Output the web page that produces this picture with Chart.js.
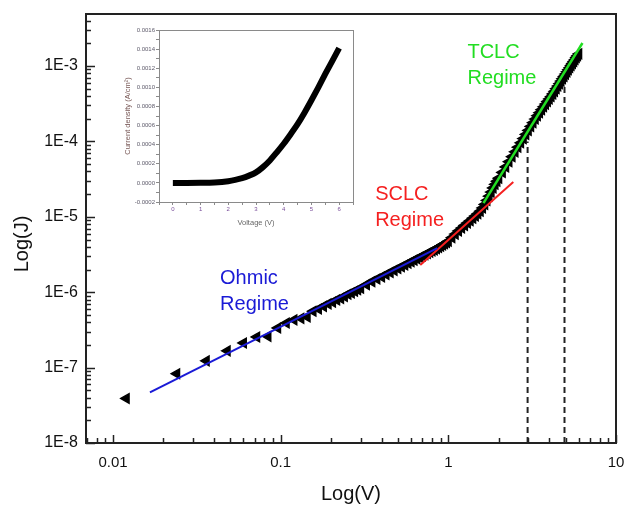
<!DOCTYPE html>
<html lang="en">
<head>
  <meta charset="UTF-8" />
  <title>Log J vs Log V</title>
  <script src="https://cdn.jsdelivr.net/npm/chart.js"></script>
  <style>
    html, body { margin: 0; padding: 0; background: #fff; }
    #wrap { position: relative; width: 626px; height: 506px; }
    #main { position: absolute; left: 0; top: 0; }
    #inset { position: absolute; left: 112px; top: 22px; }
  </style>
</head>
<body>
<div id="wrap">
  <canvas id="main" width="626" height="506"></canvas>
  <canvas id="inset" width="250" height="212"></canvas>
</div>
<script>
  // main log-log data (V, A/cm2)
  const voltage = [
    0.012, 0.024, 0.036, 0.048, 0.060, 0.072, 0.084, 0.096, 0.108, 0.120, 0.132, 0.144,
    0.156, 0.168, 0.180, 0.192, 0.204, 0.216, 0.228, 0.240, 0.252, 0.264, 0.276, 0.288, 0.300,
    0.325, 0.35, 0.375, 0.4, 0.425, 0.45, 0.475, 0.5, 0.525, 0.55, 0.575, 0.6, 0.625, 0.65,
    0.675, 0.7, 0.725, 0.75, 0.775, 0.8, 0.825, 0.85, 0.875, 0.9, 0.925, 0.95, 0.975, 1.0,
    1.05, 1.1, 1.15, 1.2, 1.25, 1.3, 1.35, 1.4, 1.45, 1.5, 1.55, 1.6, 1.65, 1.7, 1.75, 1.8,
    1.85, 1.9, 1.95, 2.0, 2.1, 2.2, 2.3, 2.4, 2.5, 2.6, 2.7, 2.8, 2.9, 3.0, 3.1, 3.2, 3.3,
    3.4, 3.5, 3.6, 3.7, 3.8, 3.9, 4.0, 4.1, 4.2, 4.3, 4.4, 4.5, 4.6, 4.7, 4.8, 4.9, 5.0,
    5.1, 5.2, 5.3, 5.4, 5.5, 5.6, 5.7, 5.8, 5.9, 6.0
  ];
  const currentDensity = [
    3.9e-8, 8.3e-8, 1.23e-7, 1.67e-7, 2.12e-7, 2.55e-7, 2.6e-7, 3.35e-7, 3.9e-7, 4.3e-7, 4.5e-7, 4.7e-7,
    5.6e-7, 6.0e-7, 6.5e-7, 7.0e-7, 7.4e-7, 7.9e-7, 8.3e-7, 8.8e-7, 9.4e-7, 9.8e-7, 1.03e-6, 1.08e-6, 1.13e-6,
    1.26e-6, 1.38e-6, 1.5e-6, 1.6e-6, 1.72e-6, 1.83e-6, 1.95e-6, 2.06e-6, 2.18e-6, 2.3e-6, 2.42e-6, 2.54e-6, 2.66e-6, 2.78e-6,
    2.9e-6, 3.02e-6, 3.14e-6, 3.27e-6, 3.39e-6, 3.52e-6, 3.65e-6, 3.79e-6, 3.93e-6, 4.08e-6, 4.23e-6, 4.39e-6, 4.56e-6, 4.74e-6,
    5.3e-6, 5.9e-6, 6.5e-6, 7.1e-6, 7.7e-6, 8.3e-6, 8.9e-6, 9.6e-6, 1.03e-5, 1.1e-5, 1.19e-5, 1.31e-5, 1.46e-5, 1.65e-5, 1.88e-5, 2.13e-5,
    2.42e-5, 2.7e-5, 2.97e-5, 3.26e-5, 3.88e-5, 4.59e-5, 5.38e-5, 6.28e-5, 7.27e-5, 8.37e-5, 9.59e-5, 1.09e-4, 1.24e-4, 1.4e-4, 1.58e-4, 1.77e-4, 1.98e-4,
    2.19e-4, 2.4e-4, 2.63e-4, 2.88e-4, 3.13e-4, 3.39e-4, 3.66e-4, 3.94e-4, 4.27e-4, 4.62e-4, 5.01e-4, 5.43e-4, 5.85e-4, 6.31e-4, 6.79e-4, 7.29e-4, 7.82e-4,
    8.38e-4, 8.95e-4, 9.55e-4, 1.02e-3, 1.08e-3, 1.15e-3, 1.22e-3, 1.3e-3, 1.37e-3, 1.45e-3
  ];

  // fitted lines, two end points each
  const ohmicFitV = [0.0166, 0.86];
  const ohmicFitJ = [4.7e-8, 3.85e-6];
  const sclcFitV = [0.68, 2.44];
  const sclcFitJ = [2.3e-6, 2.9e-5];
  const tclcFitV = [1.62, 6.31];
  const tclcFitJ = [1.52e-5, 2.02e-3];

  // dashed markers (V, top J)
  const markerV = [2.97, 4.93];
  const markerTopJ = [1.0e-4, 6.1e-4];

  const xTicks = [0.01, 0.1, 1, 10];
  const yTicks = [1e-8, 1e-7, 1e-6, 1e-5, 1e-4, 1e-3];
  const xLabels = ['0.01', '0.1', '1', '10'];
  const yLabels = ['1E-8', '1E-7', '1E-6', '1E-5', '1E-4', '1E-3'];

  // inset J-V (linear)
  const insetV = [0, 0.5, 1, 1.5, 2, 2.25, 2.5, 2.75, 3, 3.25, 3.5, 3.75, 4, 4.25, 4.5, 4.75, 5, 5.25, 5.5, 5.75, 6];
  const insetJ = [0, 0, 1e-6, 5e-6, 1.8e-5, 3.1e-5, 4.9e-5, 7.6e-5, 1.1e-4, 1.65e-4, 2.35e-4, 3.2e-4, 4.1e-4,
                  5.1e-4, 6.15e-4, 7.35e-4, 8.65e-4, 1.0e-3, 1.14e-3, 1.275e-3, 1.41e-3];

  const FONT = "'Liberation Sans', Arial, sans-serif";
  Chart.defaults.font.family = FONT;
  Chart.defaults.color = '#111';

  const pts = (xs, ys) => xs.map((x, i) => ({ x: x, y: ys[i] }));
  const noOverflow = s => { s.paddingTop = 0; s.paddingBottom = 0; s.paddingLeft = 0; s.paddingRight = 0; };

  const yMin = 1e-8, yMax = 4.9e-3;

  const mainDecor = {
    id: 'mainDecor',
    afterDraw(chart) {
      const { ctx, chartArea: a } = chart;
      const xs = chart.scales.x, ys = chart.scales.y;
      ctx.save();
      // inward ticks
      ctx.strokeStyle = '#222';
      ctx.lineWidth = 1.5;
      for (let e = -3; e <= 1; e++) {
        for (let m = 1; m <= 9; m++) {
          const v = m * Math.pow(10, e);
          if (v < xs.min || v > xs.max) continue;
          const px = Math.round(xs.getPixelForValue(v)) + 0.5;
          const len = m === 1 ? 8 : 5;
          ctx.beginPath(); ctx.moveTo(px, a.bottom); ctx.lineTo(px, a.bottom - len); ctx.stroke();
        }
      }
      for (let e = -8; e <= -2; e++) {
        for (let m = 1; m <= 9; m++) {
          const v = m * Math.pow(10, e);
          if (v < ys.min || v > ys.max) continue;
          const py = Math.round(ys.getPixelForValue(v)) + 0.5;
          const len = m === 1 ? 9 : 5;
          ctx.beginPath(); ctx.moveTo(a.left, py); ctx.lineTo(a.left + len, py); ctx.stroke();
        }
      }
      // frame
      ctx.lineWidth = 2;
      ctx.strokeRect(a.left, a.top, a.right - a.left, a.bottom - a.top);

      // regime labels
      ctx.font = '20px ' + FONT;
      ctx.textBaseline = 'middle';
      ctx.textAlign = 'left';
      const label = (lines, v, j, color) => {
        ctx.fillStyle = color;
        const x = xs.getPixelForValue(v), y = ys.getPixelForValue(j);
        lines.forEach((t, i) => ctx.fillText(t, x, y + i * 26));
      };
      label(['Ohmic', 'Regime'], 0.0435, 1.54e-6, '#1a1ad6');
      label(['SCLC', 'Regime'], 0.366, 1.95e-5, '#f52020');
      label(['TCLC', 'Regime'], 1.30, 1.49e-3, '#22dd22');

      // y title
      ctx.fillStyle = '#111';
      ctx.textAlign = 'center';
      ctx.translate(22, 244);
      ctx.rotate(-Math.PI / 2);
      ctx.fillText('Log(J)', 0, 0);
      ctx.restore();
    }
  };

  new Chart(document.getElementById('main'), {
    type: 'scatter',
    data: {
      datasets: [
        { data: pts(ohmicFitV, ohmicFitJ), showLine: true, borderColor: '#1a1ad6', borderWidth: 2, pointRadius: 0, order: 1 },
        { data: pts(sclcFitV, sclcFitJ), showLine: true, borderColor: '#f52020', borderWidth: 2, pointRadius: 0, order: 1 },
        { data: pts(tclcFitV, tclcFitJ), showLine: true, borderColor: '#22dd22', borderWidth: 2.5, pointRadius: 0, order: 1 },
        { data: pts(voltage, currentDensity), pointStyle: 'triangle', rotation: -90, pointRadius: 5.5,
          backgroundColor: '#000', borderColor: '#000', borderWidth: 1.5, showLine: false, order: 2 },
        ...markerV.map((v, i) => ({
          data: [{ x: v, y: yMin }, { x: v, y: markerTopJ[i] }], showLine: true,
          borderColor: '#222', borderWidth: 2, borderDash: [6, 4], pointRadius: 0, order: 3
        }))
      ]
    },
    options: {
      responsive: false,
      animation: false,
      devicePixelRatio: 1,
      layout: { padding: { top: 14, right: 10, left: 0, bottom: 0 } },
      plugins: { legend: { display: false }, tooltip: { enabled: false } },
      scales: {
        x: {
          type: 'logarithmic', min: 0.0069, max: 10,
          grid: { display: false, drawTicks: false },
          border: { display: false },
          afterBuildTicks: s => { s.ticks = xTicks.map(v => ({ value: v })); },
          afterFit: s => { s.height = 63; noOverflow(s); },
          ticks: {
            autoSkip: false, maxRotation: 0, padding: 11,
            font: { size: 15 }, color: '#111',
            callback: v => xLabels[xTicks.indexOf(v)] ?? ''
          },
          title: { display: true, text: 'Log(V)', font: { size: 20 }, color: '#111', padding: { top: 0, bottom: 0 } }
        },
        y: {
          type: 'logarithmic', min: yMin, max: yMax,
          grid: { display: false, drawTicks: false },
          border: { display: false },
          afterBuildTicks: s => { s.ticks = yTicks.map(v => ({ value: v })); },
          afterFit: s => { s.width = 86; noOverflow(s); },
          ticks: {
            autoSkip: false, padding: 8,
            font: { size: 16 }, color: '#111',
            callback: v => yLabels[yTicks.findIndex(t => Math.abs(t - v) / t < 1e-6)] ?? ''
          }
        }
      }
    },
    plugins: [mainDecor]
  });

  // inset
  const insetFrame = {
    id: 'insetFrame',
    afterDraw(chart) {
      const { ctx, chartArea: a } = chart;
      ctx.save();
      ctx.strokeStyle = '#8a8a8a';
      ctx.lineWidth = 1;
      ctx.strokeRect(a.left + 0.5, a.top + 0.5, a.right - a.left, a.bottom - a.top);
      ctx.restore();
    }
  };

  new Chart(document.getElementById('inset'), {
    type: 'scatter',
    data: {
      datasets: [{
        data: pts(insetV, insetJ), showLine: true, borderColor: '#000', borderWidth: 6,
        pointRadius: 0, cubicInterpolationMode: 'monotone'
      }]
    },
    options: {
      responsive: false,
      animation: false,
      devicePixelRatio: 1,
      layout: { padding: { top: 8, right: 9, left: 0, bottom: 0 } },
      plugins: { legend: { display: false }, tooltip: { enabled: false } },
      scales: {
        x: {
          type: 'linear', min: -0.5, max: 6.5,
          afterFit: s => { s.height = 32; noOverflow(s); },
          grid: { drawOnChartArea: false, tickLength: 3, color: '#8a8a8a' },
          border: { color: '#8a8a8a' },
          ticks: {
            stepSize: 0.5, autoSkip: false, maxRotation: 0, padding: 1,
            font: { size: 6 }, color: '#7a4f9a',
            callback: v => Number.isInteger(v) ? String(v) : ''
          },
          title: { display: true, text: 'Voltage (V)', font: { size: 7.5 }, color: '#666', padding: { top: 0, bottom: 7 } }
        },
        y: {
          type: 'linear', min: -0.0002, max: 0.0016,
          afterFit: s => { s.width = 47; noOverflow(s); },
          grid: { drawOnChartArea: false, tickLength: 3, color: '#8a8a8a' },
          border: { color: '#8a8a8a' },
          ticks: {
            stepSize: 0.0001, autoSkip: false, padding: 1,
            font: { size: 6 }, color: '#5d5a6a',
            callback: v => (Math.round(v * 1e4) % 2 === 0) ? (Math.round(v * 1e4) / 1e4).toFixed(4) : ''
          },
          title: { display: true, text: 'Current density (A/cm²)', font: { size: 7.5 }, color: '#7a5a58', padding: { top: 11, bottom: 0 } }
        }
      }
    },
    plugins: [insetFrame]
  });
</script>
</body>
</html>
